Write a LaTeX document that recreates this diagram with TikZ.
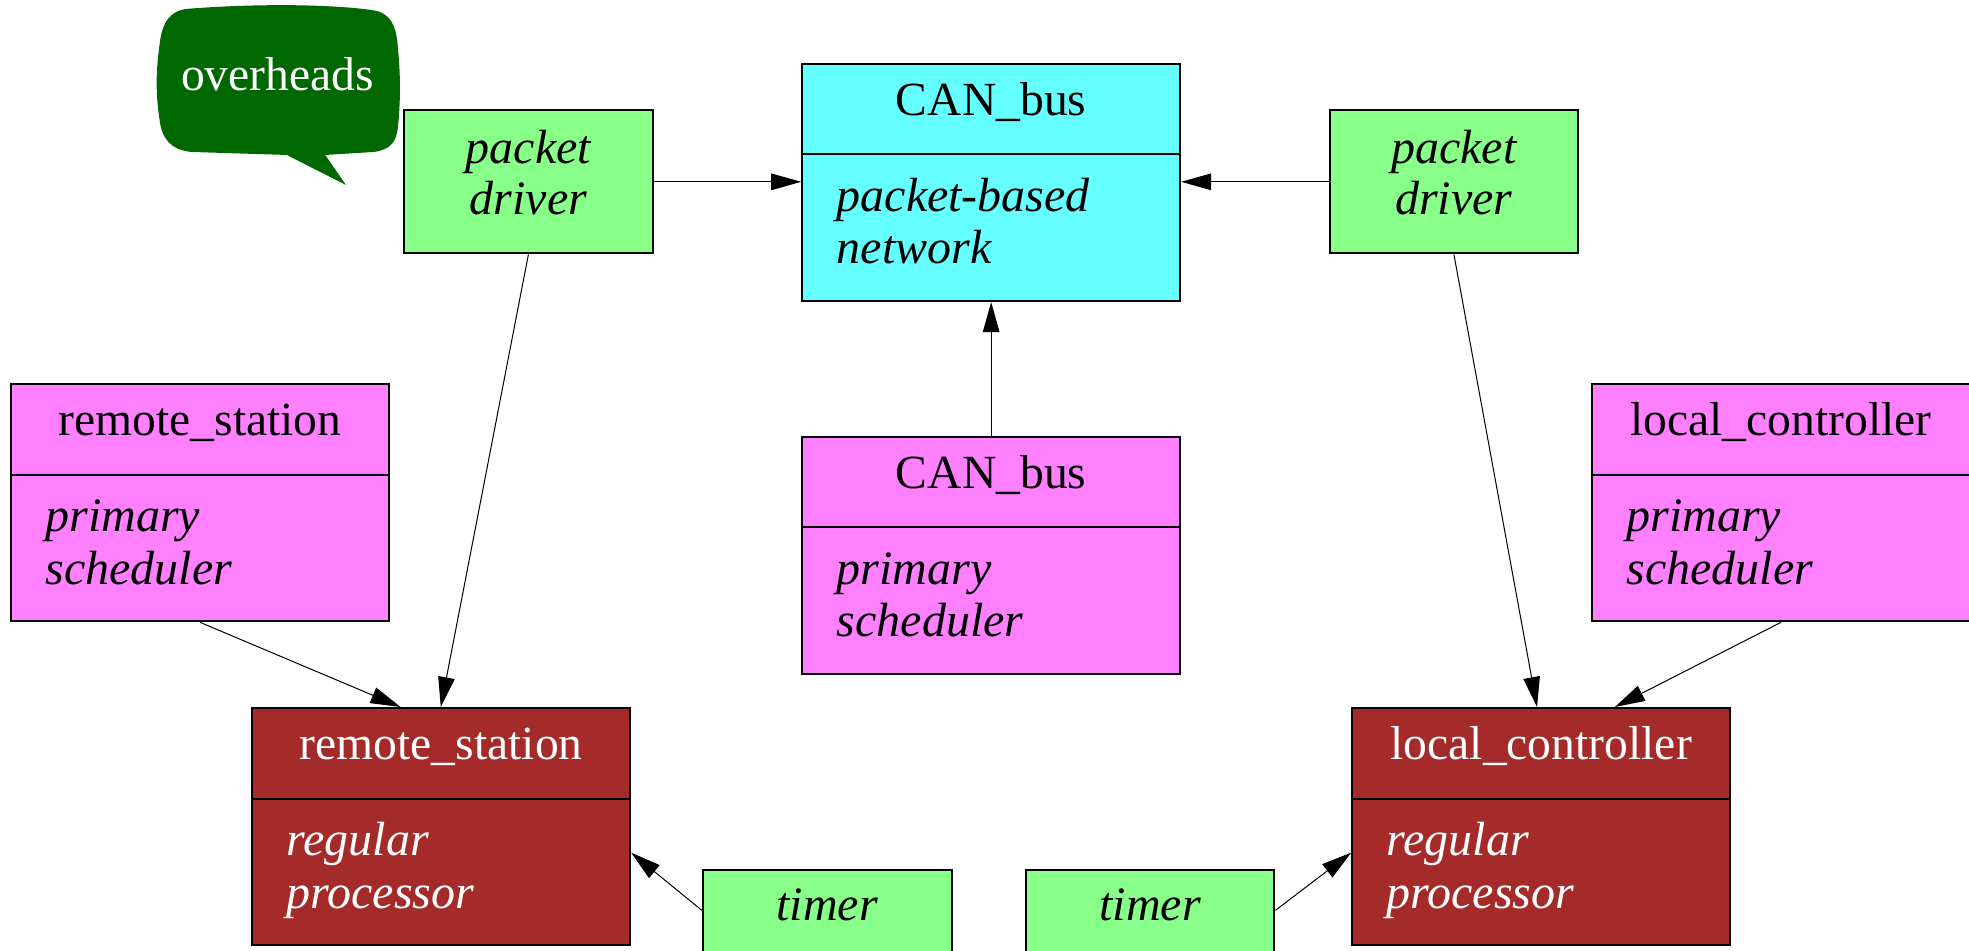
\documentclass[tikz,border=0pt]{standalone}
\usepackage{fontspec}
\setmainfont{Liberation Serif}
\usetikzlibrary{arrows.meta,calc}

\definecolor{drvgreen}{RGB}{136,255,136}
\definecolor{buscyan}{RGB}{102,255,255}
\definecolor{schedpink}{RGB}{255,128,255}
\definecolor{procbrown}{RGB}{165,42,42}
\definecolor{notegreen}{RGB}{0,104,0}

% record box: name, x, y, fill, text colour, title, first body line, second body line
\newcommand{\recordnode}[8]{%
  \node[recbox, fill=#4] (#1) at (#2,#3) {};
  \draw[divider] ($(#1.north west)+(0,73)$) -- ($(#1.north east)+(0,73)$);
  \node[titletext, text=#5] (#1-title) at ($(#1.north)+(0,31)$) {#6};
  \node[bodytext, text=#5] (#1-l1) at ($(#1.north west)+(28,107)$) {#7};
  \node[bodytext, text=#5] (#1-l2) at ($(#1.north west)+(28,149)$) {#8};
}

\tikzset{
  recbox/.style={draw, line width=1pt, anchor=north west, inner sep=0pt,
    minimum width=301*0.628pt, minimum height=189*0.628pt},
  drvbox/.style={draw, line width=1pt, fill=drvgreen, anchor=north west, inner sep=0pt,
    minimum width=198*0.628pt, minimum height=114*0.628pt},
  divider/.style={line width=1pt},
  titletext/.style={anchor=mid, inner sep=0pt, yshift=-4.7pt, font=\fontsize{23.8}{28}\selectfont},
  bodytext/.style={anchor=mid west, inner sep=0pt, yshift=-4.7pt, font=\fontsize{24}{28}\selectfont\itshape},
  drvtext/.style={anchor=mid, inner sep=0pt, yshift=-4.7pt, font=\fontsize{24}{28}\selectfont\itshape},
  link/.style={-{Triangle[length=15pt,width=8.3pt]}, line width=0.5pt},
}

\begin{document}
\begin{tikzpicture}[x=0.628pt, y=-0.628pt]
\useasboundingbox (0,0) rectangle (1568,756.6);
\clip (0,0) rectangle (1568,756.6);

% speech bubble
\fill[notegreen] (150,7) .. controls (200,3) and (260,3) .. (296,8)
  .. controls (312,10) and (316,22) .. (317,40)
  .. controls (319,60) and (319,80) .. (317,100)
  .. controls (316,113) and (311,119) .. (298,121)
  -- (259,123.4) -- (275.5,147.3) -- (228.3,123.4)
  -- (152,121) .. controls (136,119) and (129,111) .. (127,95)
  .. controls (124,75) and (124,58) .. (127,36)
  .. controls (129,17) and (136,8) .. (150,7) -- cycle;
\node[titletext, text=white] (note) at (221,61) {overheads};

% packet drivers
\node[drvbox] (pdl) at (321,87) {};
\node[drvtext] (pdl-l1) at ($(pdl.north)+(0,32)$) {packet};
\node[drvtext] (pdl-l2) at ($(pdl.north)+(0,73)$) {driver};
\node[drvbox] (pdr) at (1058,87) {};
\node[drvtext] (pdr-l1) at ($(pdr.north)+(0,32)$) {packet};
\node[drvtext] (pdr-l2) at ($(pdr.north)+(0,73)$) {driver};

% records
\recordnode{net}{638}{50}{buscyan}{black}{CAN\_bus}{packet-based}{network}
\recordnode{netsch}{638}{347}{schedpink}{black}{CAN\_bus}{primary}{scheduler}
\recordnode{rssch}{8}{305}{schedpink}{black}{remote\_station}{primary}{scheduler}
\recordnode{lcsch}{1267}{305}{schedpink}{black}{local\_controller}{primary}{scheduler}
\recordnode{rsproc}{200}{563}{procbrown}{white}{remote\_station}{regular}{processor}
\recordnode{lcproc}{1076}{563}{procbrown}{white}{local\_controller}{regular}{processor}

% timers
\node[drvbox] (tml) at (559,692) {};
\node[drvtext] (tml-t) at ($(tml.north)+(0,30)$) {timer};
\node[drvbox] (tmr) at (816,692) {};
\node[drvtext] (tmr-t) at ($(tmr.north)+(0,30)$) {timer};

% connectors
\draw[link] (pdl.east) -- (pdl.east -| net.west);
\draw[link] (pdr.west) -- (pdr.west -| net.east);
\draw[link] (netsch.north) -- (net.south);
\draw[link] (pdl.south) -- ($(rsproc.north west)+(151,0)$);
\draw[link] (rssch.south) -- ($(rsproc.north west)+(119,0)$);
\draw[link] (pdr.south) -- ($(lcproc.north west)+(148,0)$);
\draw[link] (lcsch.south) -- ($(lcproc.north west)+(210,0)$);
\draw[link] ($(tml.north west)+(0,33)$) -- ($(rsproc.north east)+(0,116)$);
\draw[link] ($(tmr.north east)+(0,33)$) -- ($(lcproc.north west)+(0,116)$);
\end{tikzpicture}
\end{document}
